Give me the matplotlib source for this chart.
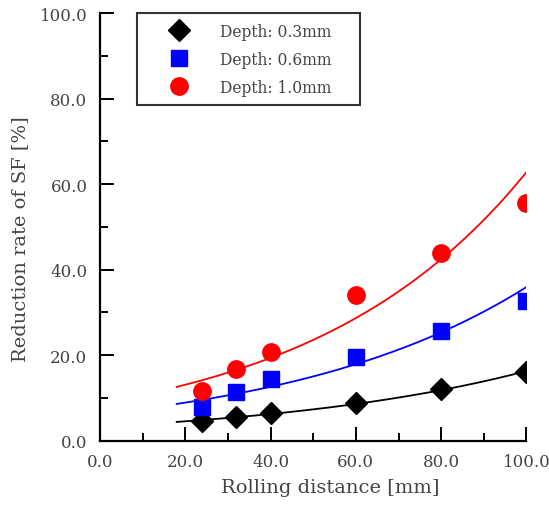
import matplotlib
matplotlib.use('Agg')
import matplotlib.pyplot as plt
from matplotlib.ticker import MultipleLocator, FormatStrFormatter
import numpy as np

plt.rcParams['font.family'] = ['DejaVu Serif']

TEXT_GRAY = '#444444'

# DATA=====================================================
distance = [24, 32, 40, 60, 80, 100]
sf_03 = [4.5, 5.5, 6.6, 8.8, 12.1, 16.1]
sf_06 = [8.0, 11.3, 14.4, 19.5, 25.7, 32.6]
sf_10 = [11.7, 16.8, 20.8, 34.1, 43.9, 55.6]
labels = ['Depth: 0.3mm', 'Depth: 0.6mm', 'Depth: 1.0mm']

# exponential trend lines y = a*exp(b*x)
fit_a = [3.30, 6.29, 8.85]
fit_b = [0.01597, 0.01743, 0.0196]
FIT_RANGE = (18, 100)


fig = plt.figure(figsize=(5.49, 5.06), dpi=100)
ax = fig.add_axes([0.182, 0.127, 0.777, 0.845])

series = [
    (sf_03, 'black', 'D', 11),
    (sf_06, 'blue', 's', 11),
    (sf_10, 'red', 'o', 12.5),
]

xs = np.linspace(FIT_RANGE[0], FIT_RANGE[1], 200)
handles = []
for (vals, col, mk, ms), lab, a, b in zip(series, labels, fit_a, fit_b):
    ax.plot(xs, a * np.exp(b * xs), color=col, lw=1.3, zorder=2)
    h, = ax.plot(distance, vals, ls='none', marker=mk, ms=ms, color=col,
                 mec=col, label=lab, zorder=3)
    handles.append(h)

ax.set_xlim(0, 100)
ax.set_ylim(0, 100)
ax.xaxis.set_major_locator(MultipleLocator(20))
ax.xaxis.set_minor_locator(MultipleLocator(10))
ax.yaxis.set_major_locator(MultipleLocator(20))
ax.yaxis.set_minor_locator(MultipleLocator(10))
ax.xaxis.set_major_formatter(FormatStrFormatter('%.1f'))
ax.yaxis.set_major_formatter(FormatStrFormatter('%.1f'))

for s in ['top', 'right']:
    ax.spines[s].set_visible(False)
for s in ['left', 'bottom']:
    ax.spines[s].set_linewidth(1.6)

ax.tick_params(which='both', direction='in', width=1.4, colors='black',
               labelcolor=TEXT_GRAY, labelsize=12)
ax.tick_params(which='major', length=10, pad=9)
ax.tick_params(which='minor', length=5.5)

ax.set_xlabel('Rolling distance [mm]', fontsize=14, color=TEXT_GRAY)
ax.set_ylabel('Reduction rate of SF [%]', fontsize=14, color=TEXT_GRAY)
ax.xaxis.set_label_coords(0.541, -0.087)
ax.yaxis.set_label_coords(-0.166, 0.475)

leg = ax.legend(handles=handles, loc='upper left', mode='expand',
                bbox_to_anchor=(0.087, 0.0, 0.523, 1.0),
                frameon=True, fancybox=False, edgecolor='black', fontsize=11.2,
                handletextpad=0.55, borderpad=0.6, labelspacing=0.72,
                borderaxespad=0, handlelength=4.2)
leg.get_frame().set_linewidth(1.5)
for t in leg.get_texts():
    t.set_color(TEXT_GRAY)

fig.savefig('out.png', dpi=100)
